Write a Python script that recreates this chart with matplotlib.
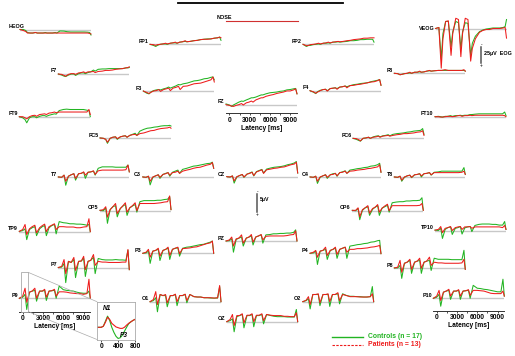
#!/usr/bin/env python3
"""Grand-average ERP traces for every electrode, controls vs patients."""
import matplotlib

matplotlib.use("Agg")
import matplotlib.pyplot as plt  # noqa: E402
from matplotlib.lines import Line2D  # noqa: E402
from matplotlib.patches import ConnectionPatch, Rectangle  # noqa: E402

plt.rcParams["font.family"] = ["Liberation Sans", "DejaVu Sans"]

# sample times of every averaged trace (ms)
latency_ms = [-500, 0, 350, 600, 1000, 1400, 1800, 2050, 2500, 2900, 3250, 3500, 3900, 4300,
              4700, 4950, 5400, 6000, 6500, 7000, 7500, 8000, 8500, 9000, 9500, 9800, 10000]

# amplitudes in microvolts, controls (ctrl) and patients (pat)
heog_ctrl = [0, 0, -1.6, -4.7, -5.5, -5.5, -4.7, -5.5, -5.5, -5.5, -4.7, -5.5, -5.5, -5.5,
             -4.7, -5.5, -2.3, -2.5, -3.5, -3.9, -3.9, -3.9, -3.9, -3.9, -4.2, -4.7, -8.6]
heog_pat = [0, -1.6, -3.1, -5.5, -5.5, -5.5, -4.7, -5.5, -5.5, -5.5, -5.5, -5.5, -5.5, -5.5,
            -5.5, -5.5, -5.5, -5.5, -5.5, -5.5, -5.5, -5.5, -5.5, -5.5, -5.5, -6.2, -7.0]
veog_ctrl = [0, 1.6, -47, -8, 11, 11, -28, -5, 11, 9, -31, -5, 9, 8,
             -42, -23, -12, -5, -2.3, -0.8, 0, 0.8, 0.8, 0.8, 1.6, 3, 14]
veog_pat = [0, 1.6, -62, -16, 11, 12, -42, -8, 16, 14, -44, -8, 16, 14,
            -51, -31, -16, -6, -3, -1.6, -1.6, 0, 0, 0, 0.8, 1.6, -15]
fp1_ctrl = [0, -0.3, -0.6, -0.3, 0, 0.1, 0.1, 0, 0.3, 0.4, 0.4, 0.3, 0.6, 0.7,
            0.8, 0.7, 0.8, 1.0, 1.1, 1.3, 1.4, 1.5, 1.5, 1.7, 1.8, 2.0, 1.1]
fp1_pat = [0, -0.1, -0.3, -0.1, 0, 0.1, 0.3, 0.1, 0.3, 0.4, 0.6, 0.3, 0.6, 0.7,
           1.0, 0.7, 0.8, 1.0, 1.1, 1.3, 1.4, 1.4, 1.5, 1.7, 1.8, 2.0, 1.8]
fp2_ctrl = [0, -0.6, -0.3, -0.3, -0.1, 0, 0.1, 0, 0.3, 0.3, 0.4, 0.3, 0.6, 0.6,
            0.7, 0.6, 0.7, 0.8, 1.0, 1.0, 1.1, 1.3, 1.3, 1.4, 1.4, 1.4, 0.6]
fp2_pat = [0, -0.4, -0.3, -0.1, 0, 0.1, 0.3, 0.1, 0.3, 0.4, 0.6, 0.4, 0.6, 0.7,
           0.8, 0.7, 0.8, 1.0, 1.1, 1.3, 1.4, 1.5, 1.7, 1.7, 1.8, 1.8, 1.8]
f7_ctrl = [0, -0.3, -0.6, -0.7, -0.3, 0, 0, -0.4, 0.1, 0.3, 0.3, 0.1, 0.4, 0.6,
           1.1, 0.8, 1.3, 1.4, 1.4, 1.5, 1.5, 1.5, 1.5, 1.5, 1.7, 1.7, 1.8]
f7_pat = [0, -0.1, -0.4, -0.6, -0.1, 0.1, 0.1, -0.1, 0.3, 0.4, 0.6, 0.3, 0.6, 0.6,
          0.7, 0.4, 0.7, 0.8, 1.0, 1.0, 1.1, 1.3, 1.4, 1.5, 1.7, 1.8, 2.0]
f3_ctrl = [0, -0.6, -0.8, -0.3, 0.1, 0.3, 0.4, 0.3, 0.6, 0.8, 1.1, 0.8, 1.1, 1.4,
           1.8, 1.7, 2.0, 2.2, 2.5, 2.8, 2.9, 3.1, 3.4, 3.5, 3.8, 3.9, 3.1]
f3_pat = [0, -0.4, -0.7, -0.4, 0, 0.1, 0.4, -0.1, 0.4, 0.6, 0.8, 0.1, 0.8, 1.0,
          1.3, 0.4, 1.3, 1.4, 1.7, 2.0, 2.1, 2.2, 2.5, 2.8, 3.1, 3.9, 2.5]
fz_ctrl = [0.3, 0, -0.4, 0, 0.4, 0.8, 1.1, 1.0, 1.4, 1.7, 2.0, 2.0, 2.2, 2.5,
           2.8, 2.8, 3.1, 3.4, 3.5, 3.6, 3.8, 3.9, 4.2, 4.3, 4.5, 4.6, 3.1]
fz_pat = [0.1, -0.1, -0.3, -0.4, -0.1, 0.1, 0.4, 0, 0.6, 0.8, 1.1, 0.8, 1.4, 1.7,
          2.0, 2.0, 2.4, 2.7, 2.9, 3.2, 3.4, 3.6, 3.9, 3.9, 4.2, 4.5, 3.1]
f4_ctrl = [0, -0.4, -0.8, -0.3, 0.1, 0.3, 0.4, 0, 0.6, 0.7, 0.8, 0.6, 1.0, 1.1,
           1.3, 1.1, 1.4, 1.7, 1.8, 2.0, 2.1, 2.2, 2.5, 2.7, 2.9, 3.1, 1.5]
f4_pat = [0, -0.3, -0.7, -0.4, 0, 0.3, 0.4, -0.1, 0.6, 0.7, 0.8, 0.4, 1.0, 1.1,
          1.3, 0.8, 1.4, 1.5, 1.7, 1.8, 2.0, 2.2, 2.4, 2.5, 2.8, 3.1, 1.5]
f8_ctrl = [0, -0.1, -0.4, -0.3, -0.1, 0, 0.1, 0, 0.3, 0.3, 0.4, 0.3, 0.4, 0.6,
           0.7, 0.6, 0.7, 0.8, 0.8, 0.8, 0.8, 0.8, 0.8, 0.8, 0.8, 0.8, 0.6]
f8_pat = [0, -0.1, -0.4, -0.3, -0.1, 0, 0.3, 0, 0.3, 0.3, 0.6, 0.3, 0.4, 0.6,
          0.8, 0.6, 0.7, 0.8, 0.8, 1.0, 0.8, 0.8, 0.8, 0.8, 0.8, 1.0, 0.6]
ft9_ctrl = [0, -0.3, -0.8, -1.7, -0.3, 0, 0, -0.3, 0.1, 0.3, 0.3, 0.1, 0.4, 0.6,
            0.8, 0.7, 1.7, 2.0, 2.1, 2.0, 2.0, 2.0, 2.0, 2.0, 1.8, 1.7, 0]
ft9_pat = [0, 0, -0.3, -0.6, 0, 0.3, 0.4, 0.1, 0.6, 0.7, 0.8, 0.6, 1.0, 1.1,
           1.3, 1.1, 1.3, 1.3, 1.3, 1.3, 1.3, 1.3, 1.3, 1.3, 1.3, 2.0, 0.6]
ft10_ctrl = [0, 0.1, 0, -0.1, 0.1, 0.1, 0.3, 0.1, 0.3, 0.3, 0.4, 0.3, 0.4, 0.4,
             0.6, 0.6, 0.7, 0.8, 0.8, 0.8, 0.8, 0.8, 0.8, 0.8, 0.8, 1.3, 0.3]
ft10_pat = [0, 0, -0.1, -0.1, 0, 0.1, 0.1, 0, 0.1, 0.3, 0.3, 0.1, 0.3, 0.3,
            0.4, 0.3, 0.4, 0.4, 0.4, 0.4, 0.4, 0.4, 0.4, 0.4, 0.4, 0.3, 0]
fc5_ctrl = [0.1, 0, -0.3, -1.4, 0, 0.3, 0.4, -0.3, 0.4, 0.6, 0.7, 0.3, 0.8, 1.1,
            1.4, 0.8, 2.0, 2.5, 2.8, 2.9, 3.1, 3.2, 3.4, 3.5, 3.5, 3.6, 3.4]
fc5_pat = [0.1, 0, -0.3, -1.1, 0, 0.3, 0.4, -0.1, 0.4, 0.6, 0.7, 0.3, 0.8, 1.0,
           1.1, 0.8, 1.3, 1.5, 1.8, 2.1, 2.2, 2.5, 2.7, 2.8, 2.9, 3.1, 2.8]
fc6_ctrl = [0, -0.3, -0.6, -0.8, 0, 0.1, 0.3, 0, 0.4, 0.6, 0.7, 0.4, 0.7, 0.8,
            1.0, 0.7, 1.1, 1.3, 1.4, 1.5, 1.7, 1.8, 2.0, 2.1, 2.2, 2.7, 1.1]
fc6_pat = [0, -0.1, -0.4, -0.7, 0, 0.1, 0.3, 0, 0.3, 0.4, 0.6, 0.3, 0.6, 0.7,
           0.8, 0.6, 0.8, 1.0, 1.1, 1.3, 1.3, 1.4, 1.5, 1.7, 1.8, 2.1, 0.8]
t7_ctrl = [0.1, 0, 0.6, -2.2, 0.3, 0.7, 1.0, -0.8, 1.0, 1.1, 1.4, -0.3, 1.4, 1.5,
           1.7, 0.6, 2.5, 2.9, 2.9, 2.9, 2.9, 2.8, 2.8, 2.8, 2.8, 3.4, 1.5]
t7_pat = [0.1, 0, 0.6, -1.1, 0.3, 0.7, 1.0, -0.3, 1.0, 1.1, 1.5, 0.6, 1.4, 1.5,
          1.8, 0.8, 1.8, 2.0, 2.0, 2.0, 2.0, 2.0, 2.0, 2.0, 2.1, 3.4, 1.5]
c3_ctrl = [0.1, 0, 0.3, -2.1, 0, 0.4, 0.7, -0.3, 0.8, 1.1, 1.3, 0.3, 1.4, 1.7,
           2.0, 1.1, 2.2, 2.5, 2.8, 3.1, 3.2, 3.4, 3.6, 3.8, 3.9, 4.2, 2.5]
c3_pat = [0.1, 0, 0.3, -1.1, 0.1, 0.4, 0.7, 0, 0.8, 1.0, 1.3, 0.6, 1.3, 1.4,
          1.7, 1.1, 1.7, 2.0, 2.2, 2.5, 2.7, 2.8, 3.1, 3.4, 3.6, 4.1, 2.5]
cz_ctrl = [0.1, 0, 0.3, -1.7, 0, 0.4, 0.7, -0.1, 0.8, 1.1, 1.4, 0.3, 1.5, 1.8,
           2.1, 1.1, 2.2, 2.5, 2.7, 2.8, 2.9, 3.1, 3.4, 3.6, 3.9, 4.3, 1.1]
cz_pat = [0.1, 0, 0.3, -1.1, 0.1, 0.4, 0.7, 0, 0.8, 1.0, 1.3, 0.4, 1.4, 1.7,
          2.0, 1.0, 2.0, 2.2, 2.4, 2.5, 2.7, 2.8, 3.1, 3.4, 3.6, 4.1, 1.1]
c4_ctrl = [0.1, 0, 0.3, -1.7, 0, 0.4, 0.7, -0.3, 0.7, 1.0, 1.1, 0.3, 1.3, 1.5,
           1.8, 1.1, 2.0, 2.2, 2.4, 2.5, 2.7, 2.8, 3.1, 3.2, 3.5, 3.9, 1.4]
c4_pat = [0.1, 0, 0.3, -1.1, 0.1, 0.4, 0.7, 0, 0.7, 0.8, 1.1, 0.4, 1.3, 1.4,
          1.7, 1.1, 1.7, 1.8, 2.0, 2.1, 2.2, 2.4, 2.5, 2.7, 2.9, 3.5, 1.4]
t8_ctrl = [0.1, 0, 0.3, -1.1, 0, 0.4, 0.6, -0.1, 0.7, 0.8, 1.0, 0.1, 1.0, 1.1,
           1.3, 0.6, 1.4, 1.5, 1.7, 1.7, 1.7, 1.7, 1.7, 1.7, 1.7, 2.7, 0.8]
t8_pat = [0.1, 0, 0.3, -0.8, 0.1, 0.4, 0.6, 0, 0.7, 0.8, 1.0, 0.4, 1.0, 1.1,
          1.3, 0.7, 1.3, 1.3, 1.3, 1.3, 1.3, 1.3, 1.3, 1.3, 1.4, 1.7, 0.8]
cp5_ctrl = [0.1, 0, 0.7, -3.5, 0.3, 1.1, 1.4, -1.7, 0.6, 1.3, 1.7, -1.3, 0.8, 1.3,
            1.7, -0.4, 2.5, 2.8, 2.8, 2.8, 2.8, 2.9, 2.9, 3.1, 3.2, 3.9, 0.3]
cp5_pat = [0.1, 0.3, 1.1, -1.8, 0.3, 1.1, 2.0, -0.8, 0.6, 1.4, 2.2, -0.4, 0.8, 1.4,
           2.2, 0, 2.0, 2.0, 2.0, 2.0, 2.0, 2.1, 2.2, 2.4, 2.5, 4.1, 0.3]
cp6_ctrl = [0.1, 0, 0.6, -2.5, 0.1, 0.8, 1.1, -1.3, 0.4, 1.0, 1.4, -1.3, 0.7, 1.1,
            1.5, -0.4, 2.2, 2.4, 2.5, 2.5, 2.7, 2.7, 2.8, 2.8, 2.9, 3.6, 0.1]
cp6_pat = [0.1, 0.1, 0.8, -1.7, 0.3, 0.8, 1.4, -0.7, 0.6, 1.0, 1.7, -0.4, 0.7, 1.3,
           1.8, 0, 1.4, 1.4, 1.4, 1.4, 1.4, 1.4, 1.4, 1.4, 1.5, 2.0, 0.1]
tp9_ctrl = [0.1, 0.3, 0.8, -2.2, 0.6, 1.1, 1.4, -1.1, 0.8, 1.4, 1.7, -1.1, 1.1, 1.7,
            2.0, -0.6, 2.8, 2.5, 2.4, 2.2, 2.2, 2.1, 2.1, 2.0, 1.8, 2.0, 0]
tp9_pat = [0.1, 0.6, 2.0, -0.8, 0.8, 1.4, 1.8, -0.3, 1.1, 1.7, 2.1, 0, 1.4, 1.8,
           2.2, 0.6, 1.4, 1.4, 1.3, 1.3, 1.3, 1.1, 1.1, 1.3, 1.4, 3.6, 0]
tp10_ctrl = [0.1, 0, 0.6, -2.2, 0.3, 0.8, 1.0, -1.1, 0.6, 0.8, 1.1, -1.0, 0.7, 1.0,
             1.1, -0.3, 1.4, 1.7, 1.8, 1.8, 1.8, 1.7, 1.7, 1.5, 1.5, 2.5, 0.3]
tp10_pat = [0.1, 0.3, 1.1, -0.6, 0.6, 0.8, 1.1, 0, 0.8, 1.0, 1.1, 0.3, 1.0, 1.0,
            1.1, 0.6, 1.0, 1.0, 1.0, 1.0, 1.0, 1.0, 1.0, 1.0, 0.8, 1.4, 0.3]
p7_ctrl = [0, 0.1, 1.1, -4.2, 1.7, 1.4, 2.2, -2.8, 1.7, 1.8, 2.5, -2.5, 1.7, 2.0,
           2.8, -1.7, 2.5, 2.2, 2.1, 2.1, 2.1, 2.2, 2.1, 2.1, 2.0, 4.8, -0.6]
p7_pat = [0, 0.3, 2.2, -1.7, 1.7, 1.4, 2.8, -0.8, 1.7, 1.8, 3.1, -0.6, 1.7, 2.0,
          3.6, 0.6, 1.7, 1.5, 1.5, 1.4, 1.4, 1.4, 1.4, 1.5, 1.5, 5.0, -0.6]
p3_ctrl = [0, 0.1, 0.6, -2.8, 0.6, 0.8, 1.1, -2.0, 0.8, 1.1, 1.4, -1.7, 1.1, 1.4,
           1.5, -0.8, 1.4, 1.7, 1.8, 2.0, 2.2, 2.4, 2.5, 2.8, 3.1, 3.4, 0]
p3_pat = [0, 0.3, 1.1, -1.1, 0.6, 0.8, 1.4, -0.8, 0.8, 1.1, 1.7, -0.6, 1.1, 1.4,
          1.7, -0.1, 1.3, 1.4, 1.5, 1.7, 1.8, 2.1, 2.4, 2.7, 2.9, 3.4, 0]
pz_ctrl = [0, 0.1, 0.6, -3.1, 0.4, 0.8, 1.1, -1.4, 0.8, 1.1, 1.4, -1.1, 1.1, 1.4,
           1.7, -0.6, 1.7, 1.8, 2.0, 2.0, 2.1, 2.1, 2.2, 2.2, 2.4, 3.1, 0]
pz_pat = [0, 0.3, 1.1, -1.4, 0.6, 0.8, 1.7, -0.6, 0.8, 1.1, 1.8, -0.3, 1.1, 1.4,
          1.8, 0.3, 1.3, 1.4, 1.4, 1.4, 1.4, 1.4, 1.5, 1.7, 1.8, 2.8, 0]
p4_ctrl = [0, 0.1, 0.6, -3.1, 0.6, 0.8, 1.1, -1.7, 0.8, 1.1, 1.4, -1.4, 1.1, 1.4,
           1.7, -1.4, 2.0, 2.2, 2.4, 2.5, 2.7, 2.8, 3.1, 3.2, 3.5, 3.6, -0.1]
p4_pat = [0, 0.3, 0.8, -1.1, 0.6, 0.8, 1.7, -0.6, 0.8, 1.1, 1.7, -0.3, 1.1, 1.4,
          1.7, 0.3, 1.1, 1.1, 1.3, 1.3, 1.4, 1.5, 1.7, 1.8, 2.0, 2.2, -0.1]
p8_ctrl = [0.1, 0.1, 0.8, -2.8, 1.4, 1.7, 2.2, -1.4, 1.7, 2.0, 2.2, -1.4, 1.7, 2.0,
           2.2, -0.6, 2.8, 2.5, 2.5, 2.5, 2.5, 2.4, 2.4, 2.4, 2.4, 5.0, -0.3]
p8_pat = [0.1, 0.3, 2.2, -1.1, 1.4, 1.7, 2.5, -0.3, 1.7, 2.0, 2.8, 0, 1.7, 2.0,
          3.1, 0.8, 1.7, 1.5, 1.5, 1.4, 1.4, 1.4, 1.4, 1.4, 1.5, 2.5, -0.3]
p9_ctrl = [0, 0.3, 1.1, -3.1, 1.7, 2.0, 2.2, -0.8, 2.0, 2.0, 2.2, -0.6, 2.0, 2.1,
           2.2, 0, 3.4, 2.4, 2.2, 2.1, 2.0, 1.7, 1.5, 1.4, 1.4, 2.0, 0]
p9_pat = [0, 0.6, 2.8, -1.1, 1.7, 2.0, 2.8, 0, 2.0, 2.0, 2.5, 0.3, 2.0, 2.1,
          2.5, 0.6, 1.8, 1.8, 1.7, 1.5, 1.4, 1.3, 1.3, 1.1, 1.3, 5.3, 0]
p10_ctrl = [0, 0.3, 1.1, -2.2, 1.7, 2.0, 2.2, -0.3, 2.0, 2.0, 2.2, -0.3, 2.0, 2.1,
            2.2, 0, 3.6, 2.8, 2.7, 2.5, 2.4, 2.2, 2.0, 1.8, 1.8, 5.3, 0.6]
p10_pat = [0, 0.6, 2.2, -0.6, 1.7, 2.0, 2.5, 0.6, 2.0, 2.0, 2.4, 0.6, 2.0, 2.1,
           2.4, 0.8, 2.2, 2.2, 2.1, 2.0, 1.7, 1.4, 1.3, 1.3, 1.3, 2.0, 0.6]
o1_ctrl = [0, 0.3, 1.1, -2.8, 2.0, 1.7, 1.7, -1.4, 1.7, 1.7, 2.0, -1.1, 1.7, 1.7,
           2.0, -0.3, 2.0, 1.4, 1.3, 1.3, 1.1, 1.1, 1.0, 1.0, 1.0, 4.2, 0]
o1_pat = [0, 0.6, 2.8, -0.8, 2.0, 1.7, 2.0, -0.3, 1.7, 1.7, 2.1, 0, 1.7, 1.7,
          2.1, 0.3, 2.0, 1.4, 1.3, 1.3, 1.1, 1.1, 1.1, 1.0, 1.1, 4.5, 0]
o2_ctrl = [0, 0.3, 0.8, -2.0, 2.0, 2.0, 2.0, -1.1, 2.0, 2.0, 2.0, -1.3, 2.0, 2.0,
           2.2, -0.6, 2.2, 1.7, 1.5, 1.5, 1.4, 1.4, 1.3, 1.3, 1.4, 4.2, 0]
o2_pat = [0, 0.4, 1.4, -0.8, 2.0, 2.0, 2.2, -0.3, 2.0, 2.0, 2.2, 0, 2.0, 2.0,
          2.5, 0.3, 2.0, 1.7, 1.4, 1.4, 1.4, 1.3, 1.3, 1.3, 1.4, 2.2, 0]
oz_ctrl = [0, 0.3, 0.8, -2.8, 1.4, 1.7, 2.0, -1.7, 1.7, 1.7, 2.0, -1.4, 1.7, 1.7,
           2.0, -0.6, 2.0, 1.7, 1.5, 1.4, 1.4, 1.4, 1.3, 1.3, 1.3, 3.4, 0]
oz_pat = [0, 0.6, 2.0, -1.1, 1.7, 1.7, 2.2, -0.3, 1.8, 1.8, 2.2, 0, 1.8, 1.8,
          2.2, 0.3, 2.0, 1.8, 1.7, 1.7, 1.7, 1.5, 1.5, 1.4, 1.4, 2.5, 0]

# first 800 ms of P9, enlarged
erp_latency_ms = [-100, -50, 0, 50, 100, 150, 200, 250, 300, 350, 400, 450, 500,
                  550, 600, 650, 700, 750, 800]
erp_ctrl = [0, 0, 0, 0.3, 1.7, 3.1, 1.9, 0, -1.4, -2.5, -3.1, -2.9, -2.2,
            -1.1, 0, 1.0, 1.5, 1.9, 2.2]
erp_pat = [0, 0, 0, 0.3, 1.4, 2.8, 2.2, 1.1, 0.6, 0.1, -0.1, -0.3, -0.3,
           0, 0.6, 1.1, 1.5, 1.9, 2.2]

GREEN = "#22b422"
RED = "#ee1c1c"
GREY = "#c8c8c8"

W, H = 515, 356
PANEL_W = 71
PANEL_H = 60
UV_PX = 3.6        # pixels per microvolt on scalp channels
EOG_UV_PX = 0.64   # pixels per microvolt on eye channels

# electrode -> (left edge px, zero line px)
PANELS = {
    "HEOG": (20, 29.5), "FP1": (150, 44.3), "FP2": (303, 44.3), "VEOG": (435.5, 28.5),
    "F7": (58.3, 74), "F3": (143.3, 91), "FZ": (226, 105), "F4": (310, 90.7),
    "F8": (394.3, 73.3), "FT9": (19.3, 116.7), "FT10": (435, 116.7),
    "FC5": (100, 138.3), "FC6": (353, 138.3),
    "T7": (58.3, 177.3), "C3": (142.7, 177.3), "CZ": (226.7, 177), "C4": (310, 177.3),
    "T8": (394.3, 177.3), "CP5": (100, 210.7), "CP6": (352.3, 210.7),
    "TP9": (19.3, 231.7), "TP10": (435, 230.5),
    "P7": (58.3, 267.5), "P3": (142.7, 253.3), "PZ": (226, 241), "P4": (310, 253.3),
    "P8": (394.3, 268.3), "P9": (19.3, 298.3), "P10": (433.3, 298.3),
    "O1": (150, 301.7), "O2": (302.7, 301.7), "OZ": (226.7, 321.7),
}
TRACES = {
    "HEOG": (heog_ctrl, heog_pat), "VEOG": (veog_ctrl, veog_pat),
    "FP1": (fp1_ctrl, fp1_pat), "FP2": (fp2_ctrl, fp2_pat),
    "F7": (f7_ctrl, f7_pat), "F3": (f3_ctrl, f3_pat), "FZ": (fz_ctrl, fz_pat),
    "F4": (f4_ctrl, f4_pat), "F8": (f8_ctrl, f8_pat),
    "FT9": (ft9_ctrl, ft9_pat), "FT10": (ft10_ctrl, ft10_pat),
    "FC5": (fc5_ctrl, fc5_pat), "FC6": (fc6_ctrl, fc6_pat),
    "T7": (t7_ctrl, t7_pat), "C3": (c3_ctrl, c3_pat), "CZ": (cz_ctrl, cz_pat),
    "C4": (c4_ctrl, c4_pat), "T8": (t8_ctrl, t8_pat),
    "CP5": (cp5_ctrl, cp5_pat), "CP6": (cp6_ctrl, cp6_pat),
    "TP9": (tp9_ctrl, tp9_pat), "TP10": (tp10_ctrl, tp10_pat),
    "P7": (p7_ctrl, p7_pat), "P3": (p3_ctrl, p3_pat), "PZ": (pz_ctrl, pz_pat),
    "P4": (p4_ctrl, p4_pat), "P8": (p8_ctrl, p8_pat),
    "P9": (p9_ctrl, p9_pat), "P10": (p10_ctrl, p10_pat),
    "O1": (o1_ctrl, o1_pat), "O2": (o2_ctrl, o2_pat), "OZ": (oz_ctrl, oz_pat),
}
EOG = {"HEOG", "VEOG"}
# panels carrying a latency axis -> distance of the axis below the zero line (px)
LATENCY_AXIS = {"FZ": 8.3, "P9": 13.4, "P10": 12.7}
LABEL_SHIFT = {"HEOG": (5, -2.5), "VEOG": (-0.5, -0.5)}


def fx(x):
    return x / W


def fy(y):
    return 1 - y / H


def fig_line(fig, x, y, **kw):
    fig.add_artist(Line2D([fx(v) for v in x], [fy(v) for v in y],
                          transform=fig.transFigure, **kw))


def draw_panel(fig, name):
    x0, base = PANELS[name]
    scale = EOG_UV_PX if name in EOG else UV_PX
    ax = fig.add_axes([fx(x0), fy(base + PANEL_H / 2), PANEL_W / W, PANEL_H / H])
    half = PANEL_H / 2 / scale
    ax.set_xlim(-500, 10000)
    ax.set_ylim(-half, half)
    ax.patch.set_visible(False)

    ctrl, pat = TRACES[name]
    ax.axhline(0, color=GREY, lw=1.0, zorder=1)
    ax.plot(latency_ms, ctrl, color=GREEN, lw=0.75, clip_on=False, zorder=2)
    ax.plot(latency_ms, pat, color=RED, lw=0.75, clip_on=False, zorder=3)

    if name in LATENCY_AXIS:
        for side in ("top", "right", "left"):
            ax.spines[side].set_visible(False)
        ax.spines["bottom"].set_position(("data", -LATENCY_AXIS[name] / scale))
        ax.spines["bottom"].set_linewidth(0.7)
        ax.spines["bottom"].set_color("#333333")
        ax.set_yticks([])
        ax.set_xticks([0, 3000, 6000, 9000])
        ax.set_xticks([1500, 4500, 7500], minor=True)
        ax.set_xticklabels(["0", "3000", "6000", "9000"], fontsize=4.8, fontweight="bold")
        ax.tick_params(axis="x", which="both", length=1.6, width=0.6, pad=0.8,
                       color="#333333")
        ax.set_xlabel("Latency [ms]", fontsize=4.8, fontweight="bold", labelpad=0.8)
    else:
        ax.axis("off")

    dx, dy = LABEL_SHIFT.get(name, (-1.5, -3))
    fig.text(fx(x0 + dx), fy(base + dy), name, ha="right", va="center",
             fontsize=3.9, fontweight="bold")
    return ax


def main():
    fig = plt.figure(figsize=(W / 100, H / 100), dpi=100)
    fig.patch.set_facecolor("white")

    axes = {name: draw_panel(fig, name) for name in PANELS}

    # heading rule and nose marker
    fig_line(fig, [178, 343], [2.5, 2.5], color="black", lw=1.3)
    fig_line(fig, [226, 298], [21, 21], color="#d03030", lw=0.8)
    fig.text(fx(232), fy(17.7), "NOSE", ha="right", va="center",
             fontsize=3.9, fontweight="bold")

    # amplitude scale bars
    sb = fig.add_axes([fx(257), fy(212), 6 / W, 18 / H])
    sb.set_xlim(0, 1)
    sb.set_ylim(0, 18 / UV_PX)
    sb.axis("off")
    sb.plot([0, 0], [0, 5], color="#555555", lw=1.1, clip_on=False)
    fig.text(fx(260), fy(200), "5µV", ha="left", va="center", fontsize=3.8, fontweight="bold")
    fig.text(fx(257.5), fy(191.8), "-", ha="center", va="center", fontsize=3.4)
    fig.text(fx(257.5), fy(214.5), "+", ha="center", va="center", fontsize=3.4)

    eb = fig.add_axes([fx(481), fy(63), 6 / W, 16 / H])
    eb.set_xlim(0, 1)
    eb.set_ylim(0, 16 / EOG_UV_PX)
    eb.axis("off")
    eb.plot([0, 0], [0, 25], color="#555555", lw=1.1, clip_on=False)
    fig.text(fx(484), fy(54), "25µV  EOG", ha="left", va="center",
             fontsize=3.9, fontweight="bold")
    fig.text(fx(481.5), fy(44.8), "-", ha="center", va="center", fontsize=3.4)
    fig.text(fx(481.5), fy(65.5), "+", ha="center", va="center", fontsize=3.4)

    # enlarged first stimulus of P9
    base = 327.3
    top, bottom = 301.7, 339.5
    ins = fig.add_axes([fx(97), fy(bottom), 38 / W, (bottom - top) / H])
    ins.set_xlim(-100, 800)
    ins.set_ylim(-(bottom - base) / UV_PX, (base - top) / UV_PX)
    ins.plot(erp_latency_ms, erp_ctrl, color=GREEN, lw=0.8)
    ins.plot(erp_latency_ms, erp_pat, color=RED, lw=0.8)
    for spine in ins.spines.values():
        spine.set_color("#aaaaaa")
        spine.set_linewidth(0.6)
    ins.set_yticks([])
    ins.set_xticks([0, 400, 800])
    ins.set_xticklabels(["0", "400", "800"], fontsize=4.8, fontweight="bold")
    ins.tick_params(axis="x", length=1.6, width=0.6, pad=0.8, color="#333333")
    ins.text(150, 5.3, "N1", ha="center", va="center", fontsize=4.7,
             fontweight="bold", style="italic")
    ins.text(540, -2.3, "P3", ha="center", va="center", fontsize=4.7,
             fontweight="bold", style="italic")

    p9 = axes["P9"]
    p9.add_patch(Rectangle((-290, -3.7), 1120, 10.9, fill=False, edgecolor="#aaaaaa",
                           lw=0.6, clip_on=False, zorder=4))
    for y_src, y_dst in ((7.2, ins.get_ylim()[1]), (-3.7, ins.get_ylim()[0])):
        fig.add_artist(ConnectionPatch(xyA=(830, y_src), coordsA=p9.transData,
                                       xyB=(-100, y_dst), coordsB=ins.transData,
                                       color="#aaaaaa", lw=0.5))

    # group legend
    fig_line(fig, [332, 363], [336.7, 336.7], color=GREEN, lw=1.0)
    fig_line(fig, [332, 363], [345, 345], color=RED, lw=0.8, dashes=(2.2, 1.2))
    fig.text(fx(368), fy(336.2), "Controls (n = 17)", ha="left", va="center",
             fontsize=4.9, fontweight="bold", color=GREEN)
    fig.text(fx(368), fy(344.5), "Patients (n = 13)", ha="left", va="center",
             fontsize=4.9, fontweight="bold", color=RED)

    fig.savefig("out.png", dpi=100, facecolor="white")


if __name__ == "__main__":
    main()
